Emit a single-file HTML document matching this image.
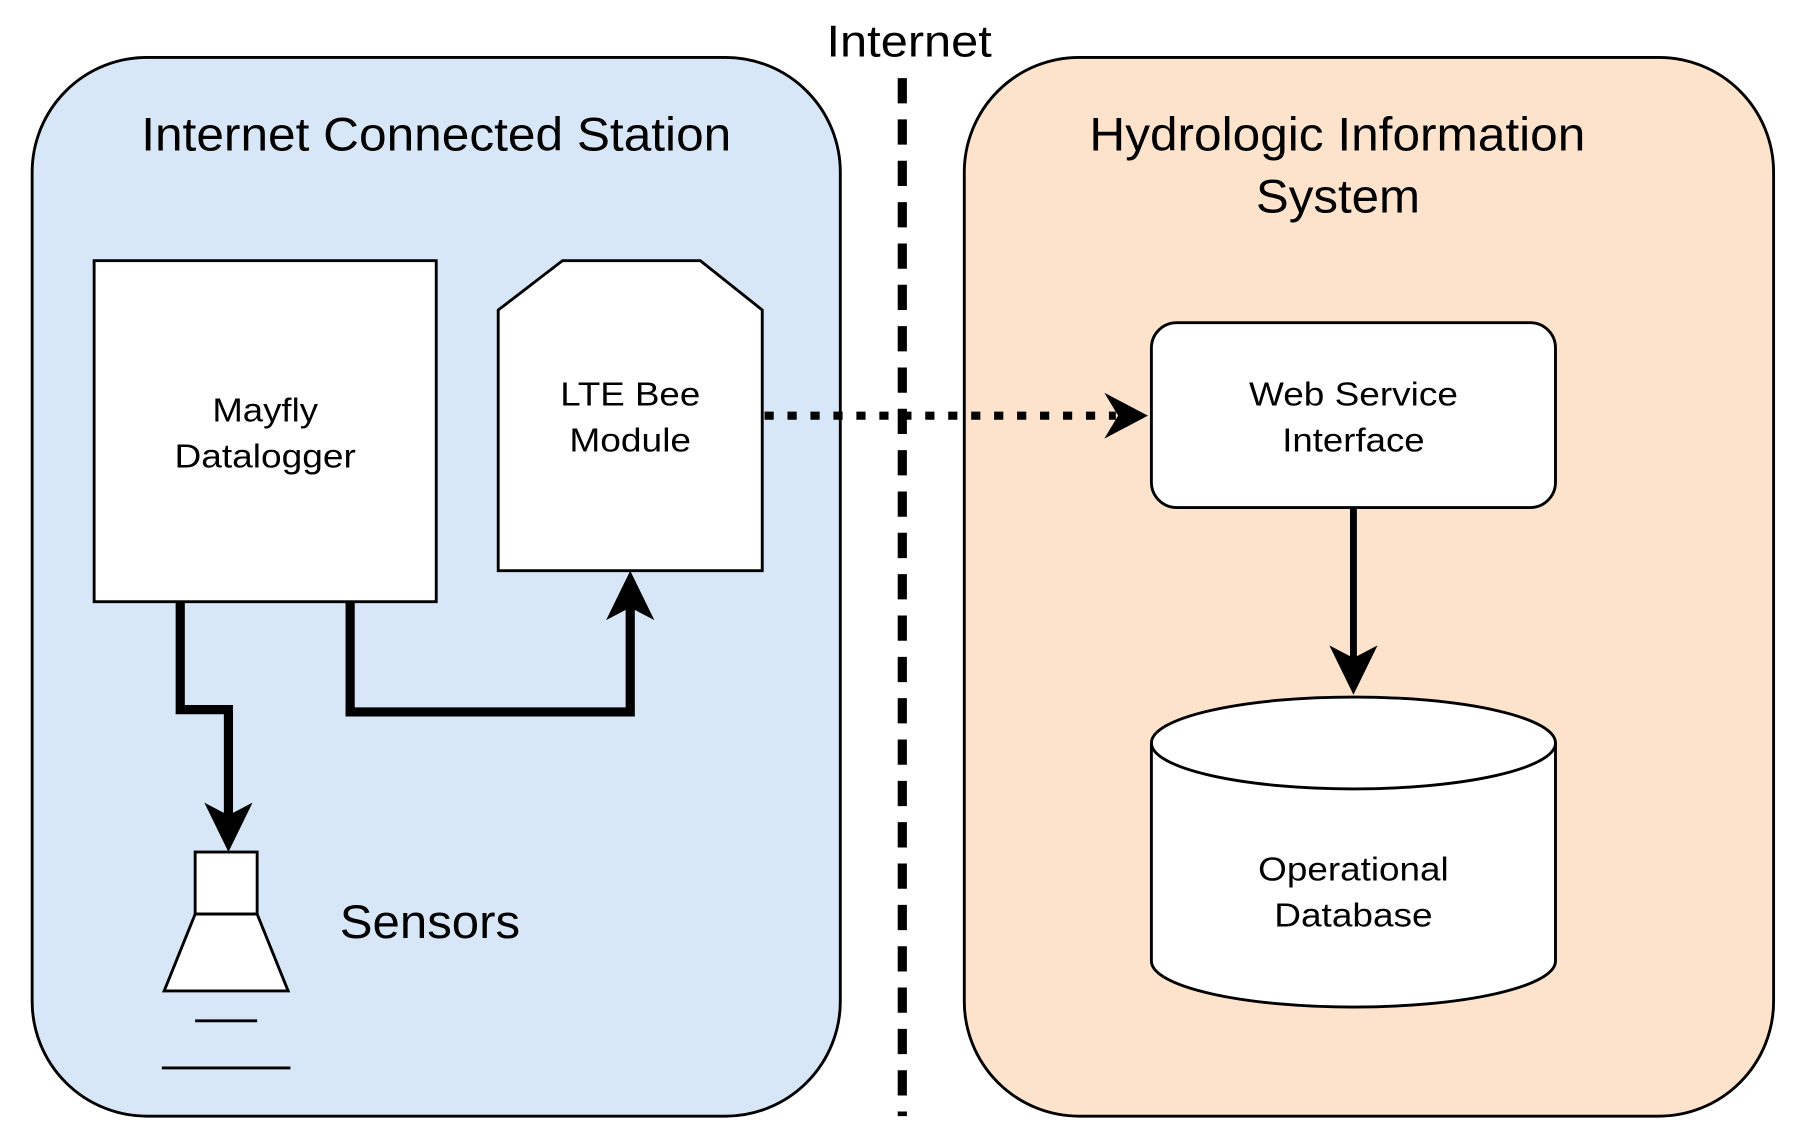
<!DOCTYPE html>
<html><head><meta charset="utf-8"><style>
html,body{margin:0;padding:0;background:#fff;width:1800px;height:1146px;overflow:hidden}
svg{display:block}
text{font-family:"Liberation Sans",sans-serif;fill:#000}
</style></head><body>
<svg width="1800" height="1146" viewBox="0 0 1568 998" preserveAspectRatio="none" xmlns="http://www.w3.org/2000/svg">
<rect x="28" y="50" width="704" height="922" rx="100" fill="#d8e7f7" stroke="#000" stroke-width="2.5"/>
<rect x="840" y="50" width="705" height="922" rx="100" fill="#fde3cc" stroke="#000" stroke-width="2.5"/>
<line x1="786" y1="68" x2="786" y2="972" stroke="#000" stroke-width="8" stroke-dasharray="22,14"/>
<text x="720" y="49" font-size="39" textLength="144" lengthAdjust="spacingAndGlyphs">Internet</text>
<text x="123" y="131" font-size="41" textLength="514" lengthAdjust="spacingAndGlyphs">Internet Connected Station</text>
<text x="949" y="131" font-size="41" textLength="432" lengthAdjust="spacingAndGlyphs">Hydrologic Information</text>
<text x="1094" y="185" font-size="41" textLength="143" lengthAdjust="spacingAndGlyphs">System</text>

<rect x="82" y="227" width="298" height="297" fill="#fff" stroke="#000" stroke-width="2.5"/>
<text x="185" y="367" font-size="29" textLength="92" lengthAdjust="spacingAndGlyphs">Mayfly</text>
<text x="152" y="407" font-size="29" textLength="158" lengthAdjust="spacingAndGlyphs">Datalogger</text>

<polygon points="434,270 490,227 610,227 664,270 664,497 434,497" fill="#fff" stroke="#000" stroke-width="2.5"/>
<text x="488" y="353" font-size="29" textLength="122" lengthAdjust="spacingAndGlyphs">LTE Bee</text>
<text x="496" y="393" font-size="29" textLength="106" lengthAdjust="spacingAndGlyphs">Module</text>

<line x1="666" y1="362" x2="972" y2="362" stroke="#000" stroke-width="7" stroke-dasharray="8,12"/>
<polygon points="1000,362 962,342 974,362 962,382" fill="#000"/>

<rect x="1003" y="281" width="352" height="161" rx="22" fill="#fff" stroke="#000" stroke-width="2.5"/>
<text x="1088" y="353" font-size="29" textLength="182" lengthAdjust="spacingAndGlyphs">Web Service</text>
<text x="1117" y="393" font-size="29" textLength="124" lengthAdjust="spacingAndGlyphs">Interface</text>

<line x1="1179" y1="442" x2="1179" y2="585" stroke="#000" stroke-width="6"/>
<polygon points="1179,605 1158,562 1179,573 1200,562" fill="#000"/>

<path d="M1003,647 A176,40 0 0 1 1355,647 L1355,837 A176,40 0 0 1 1003,837 Z" fill="#fff" stroke="#000" stroke-width="2.5"/>
<path d="M1003,647 A176,40 0 0 0 1355,647" fill="none" stroke="#000" stroke-width="2.5"/>
<text x="1096" y="767" font-size="29" textLength="166" lengthAdjust="spacingAndGlyphs">Operational</text>
<text x="1110" y="807" font-size="29" textLength="138" lengthAdjust="spacingAndGlyphs">Database</text>

<polyline points="157,524 157,618 199,618 199,720" fill="none" stroke="#000" stroke-width="8"/>
<polygon points="199,742 178,699 199,710 220,699" fill="#000"/>
<polyline points="305,524 305,620 549,620 549,520" fill="none" stroke="#000" stroke-width="8"/>
<polygon points="549,497 528,540 549,529 570,540" fill="#000"/>

<rect x="170" y="742" width="54" height="54" fill="#fff" stroke="#000" stroke-width="2.5"/>
<polygon points="170,796 224,796 251,863 143,863" fill="#fff" stroke="#000" stroke-width="2.5"/>
<line x1="170" y1="889" x2="224" y2="889" stroke="#000" stroke-width="2.5"/>
<line x1="141" y1="930" x2="253" y2="930" stroke="#000" stroke-width="2.5"/>
<text x="296" y="817" font-size="41" textLength="157" lengthAdjust="spacingAndGlyphs">Sensors</text>
</svg>
</body></html>
